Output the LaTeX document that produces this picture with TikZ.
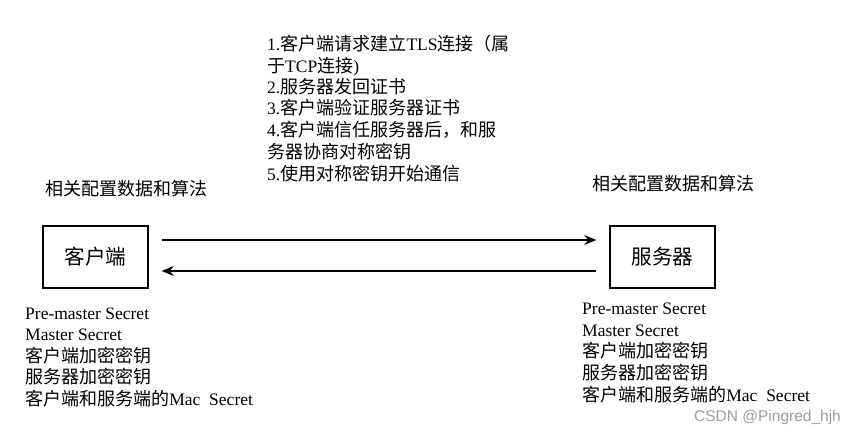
\documentclass[tikz,border=0pt]{standalone}
\usepackage{fontspec}
\setmainfont{Liberation Serif}
\newfontfamily\zhfont[Scale=1.03]{Noto Sans CJK SC}
\newfontfamily\wmfont{Liberation Sans}
\newcommand\zhs[1]{{\zhfont #1}}
\usetikzlibrary{arrows.meta}
\begin{document}
\begin{tikzpicture}[x=1pt,y=-1pt,
  txt/.style={anchor=base west,inner sep=0pt,font=\fontsize{17.5}{21.5}\selectfont},
  boxnode/.style={draw,line width=1.5pt,minimum width=105pt,minimum height=62pt,inner sep=0pt,font=\zhfont\fontsize{20}{24}\selectfont},
  arr/.style={line width=1.5pt,-{Stealth[length=12pt,width=10pt]},shorten <=13pt,shorten >=13pt}]
\useasboundingbox[fill=white] (0,0) rectangle (857,435);
% boxes
\node[boxnode] (client) at (95.5,257) {客户端};
\node[boxnode] (server) at (662.5,257) {服务器};
% arrows
\coordinate (ytop) at (0,240);
\coordinate (ybot) at (0,271);
\draw[arr] (client.east |- ytop) -- (server.west |- ytop);
\draw[arr] (server.west |- ybot) -- (client.east |- ybot);
% headers
\node[txt] (hl) at (45,196) {\zhs{相关配置数据和算法}};
\node[txt] (hr) at (592,191) {\zhs{相关配置数据和算法}};
% middle steps
\node[txt] (m1) at (267,51) {1.\zhs{客户端请求建立}TLS\zhs{连接（属}};
\node[txt] (m2) at (267,73) {\zhs{于}TCP\zhs{连接})};
\node[txt] (m3) at (267,94) {2.\zhs{服务器发回证书}};
\node[txt] (m4) at (267,115) {3.\zhs{客户端验证服务器证书}};
\node[txt] (m5) at (267,137) {4.\zhs{客户端信任服务器后，和服}};
\node[txt] (m6) at (267,159) {\zhs{务器协商对称密钥}};
\node[txt] (m7) at (267,181) {5.\zhs{使用对称密钥开始通信}};
% left list
\node[txt] (l1) at (25,320) {Pre-master Secret};
\node[txt] (l2) at (25,341) {Master Secret};
\node[txt] (l3) at (25,363) {\zhs{客户端加密密钥}};
\node[txt] (l4) at (25,384) {\zhs{服务器加密密钥}};
\node[txt] (l5) at (25,406) {\zhs{客户端和服务端的}Mac\ \ Secret};
% right list
\node[txt] (r1) at (582,315) {Pre-master Secret};
\node[txt] (r2) at (582,337) {Master Secret};
\node[txt] (r3) at (582,358) {\zhs{客户端加密密钥}};
\node[txt] (r4) at (582,380) {\zhs{服务器加密密钥}};
\node[txt] (r5) at (582,402) {\zhs{客户端和服务端的}Mac\ \ Secret};
% watermark
\node[anchor=base west,inner sep=0pt,text=black!38,font=\wmfont\fontsize{15.5}{18}\selectfont] (wm) at (694,422) {CSDN @Pingred\_hjh};
\end{tikzpicture}
\end{document}
